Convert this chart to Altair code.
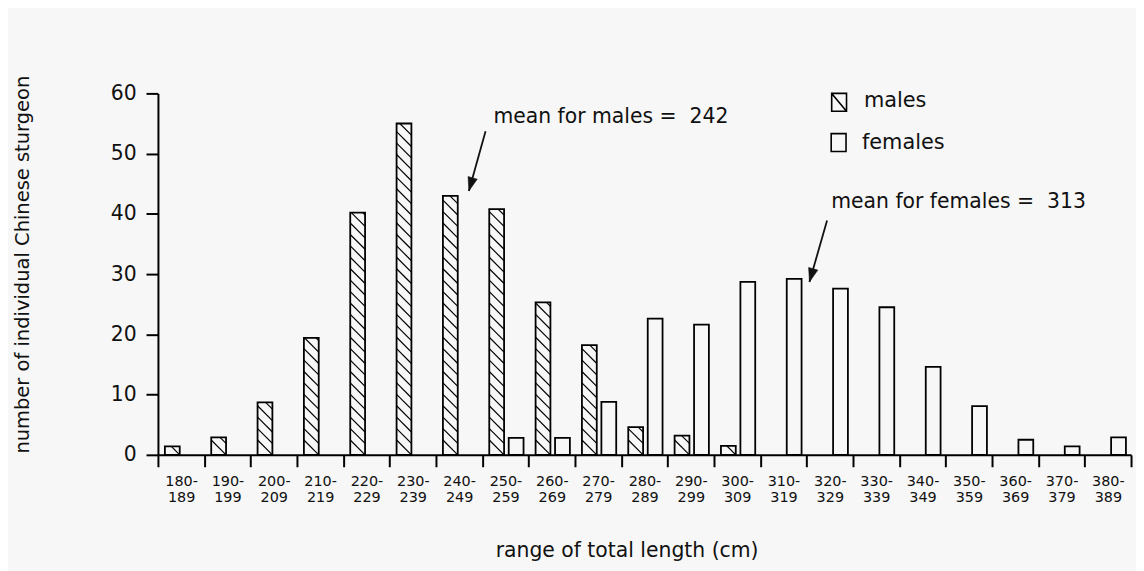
import altair as alt
import pandas as pd

# ---------------- data ----------------
bin_starts = list(range(180, 390, 10))          # 180-189 ... 380-389
male_counts = [1.4, 2.9, 8.7, 19.4, 40.2, 55.0, 43.0, 40.8, 25.3, 18.2, 4.6, 3.2, 1.5,
               None, None, None, None, None, None, None, None]
female_counts = [None, None, None, None, None, None, None,
                 2.8, 2.8, 8.8, 22.6, 21.6, 28.7, 29.2, 27.6, 24.5, 14.6, 8.1, 2.5, 1.4, 2.9]
tick_values = list(range(180, 400, 10))
y_ticks = [0, 10, 20, 30, 40, 50, 60]

sexes = ["males", "females"]
annot_text = ["mean for males = \u00a0242", "mean for females = \u00a0313"]
annot_x = [252.4, 325.3]
annot_y = [55.05, 40.9]
arrow_x = [250.7, 324.4]
arrow_y = [53.7, 38.9]
arrow_tip_x = [247.1, 320.6]
arrow_tip_y = [43.8, 28.7]

# ---------------- layout / style ----------------
W, H = 980, 364
XD = [180, 390]
YD = [0, 60]
BG = "#f7f7f7"
INK = "#111111"
FONT = "DejaVu Sans"
BAR_W = 3.2                     # bar width in cm units
OFFSET = {"males": 1.5, "females": 5.7}
PX_X = W / (XD[1] - XD[0])
PX_Y = H / (YD[1] - YD[0])
HATCH_SPACING = 11.5

rows = []
for s, m, f in zip(bin_starts, male_counts, female_counts):
    if m is not None:
        rows.append({"start": s, "sex": "males", "count": m})
    if f is not None:
        rows.append({"start": s, "sex": "females", "count": f})
bars_df = pd.DataFrame(rows)
bars_df["xl"] = bars_df["start"] + bars_df["sex"].map(OFFSET)
bars_df["xr"] = bars_df["xl"] + BAR_W

# diagonal hatching for male bars, derived from the counts
hatch = []
for s, v in zip(bin_starts, male_counts):
    if v is None:
        continue
    xl = s + OFFSET["males"]
    Wp = BAR_W * PX_X
    Hp = v * PX_Y
    c = Hp - Wp
    while c > -Wp:
        x0 = max(0.0, -c)
        x1 = min(Wp, Hp - c)
        if x1 > x0 + 0.5:
            hatch.append({"hx": xl + x0 / PX_X, "hy": v - (x0 + c) / PX_Y,
                          "hx2": xl + x1 / PX_X, "hy2": v - (x1 + c) / PX_Y})
        c -= HATCH_SPACING
hatch_df = pd.DataFrame(hatch)

annot_df = pd.DataFrame({"x": annot_x, "y": annot_y, "text": annot_text})
arrow_df = pd.DataFrame({"x": arrow_x, "y": arrow_y, "x2": arrow_tip_x, "y2": arrow_tip_y})

xscale = alt.Scale(domain=XD, nice=False, zero=False)
yscale = alt.Scale(domain=YD, nice=False)

x_axis = alt.Axis(
    values=tick_values,
    title="range of total length (cm)",
    labelExpr="datum.value >= 390 ? '' : [format(datum.value, 'd') + '-', format(datum.value + 9, 'd')]",
    labelOffset=W / 21 / 2,
    labelFontSize=14.5,
    labelLineHeight=16,
    labelPadding=8,
    labelOverlap=False,
    labelBound=False,
    labelFlush=False,
    tickSize=12,
    titleX=472,
    titleY=102,
    titleAlign="center",
    titleBaseline="alphabetic",
    titleFontSize=20.5,
)
y_axis = alt.Axis(
    values=y_ticks,
    title="number of individual Chinese sturgeon",
    tickSize=12,
    labelPadding=10,
    labelFontSize=20.5,
    titleAngle=270,
    titleX=-130,
    titleY=172,
    titleAlign="center",
    titleBaseline="alphabetic",
    titleFontSize=19.6,
)

bars = alt.Chart(bars_df).mark_rect(fill=BG, stroke="black", strokeWidth=1.8).encode(
    x=alt.X("xl:Q", scale=xscale, axis=x_axis),
    x2="xr:Q",
    y=alt.Y("count:Q", scale=yscale, axis=y_axis),
    y2=alt.datum(0),
)

hatch_layer = alt.Chart(hatch_df).mark_rule(stroke="black", strokeWidth=1.2).encode(
    x=alt.X("hx:Q", scale=xscale),
    x2="hx2:Q",
    y=alt.Y("hy:Q", scale=yscale),
    y2="hy2:Q",
)

annots = alt.Chart(annot_df).mark_text(
    align="left", baseline="alphabetic", font=FONT, fontSize=20.5, color=INK
).encode(
    x=alt.X("x:Q", scale=xscale),
    y=alt.Y("y:Q", scale=yscale),
    text="text:N",
)

arrow_lines = alt.Chart(arrow_df).mark_rule(stroke=INK, strokeWidth=1.8).encode(
    x=alt.X("x:Q", scale=xscale),
    x2="x2:Q",
    y=alt.Y("y:Q", scale=yscale),
    y2="y2:Q",
)

arrow_heads = alt.Chart(arrow_df).mark_point(
    shape="M0,0L-0.35,-1L0.35,-1Z", filled=True, fill=INK, stroke=INK, strokeWidth=0.5,
    size=760, angle=16, opacity=1
).encode(
    x=alt.X("x2:Q", scale=xscale),
    y=alt.Y("y2:Q", scale=yscale),
)

leg_m_box = alt.Chart(pd.DataFrame({"sex": [sexes[0]]})).mark_point(
    shape="M-0.83,-1H0.83V1H-0.83Z M-0.83,-1L0.83,1", filled=False, stroke="black",
    strokeWidth=1.6, size=324, opacity=1
).encode(x=alt.value(686), y=alt.value(9))
leg_f_box = alt.Chart(pd.DataFrame({"sex": [sexes[1]]})).mark_point(
    shape="M-0.83,-1H0.83V1H-0.83Z", filled=False, stroke="black",
    strokeWidth=1.6, size=324, opacity=1
).encode(x=alt.value(685.5), y=alt.value(49.5))
leg_m_txt = alt.Chart(pd.DataFrame({"sex": [sexes[0]]})).mark_text(
    align="left", baseline="alphabetic", font=FONT, fontSize=21, color=INK
).encode(x=alt.value(711), y=alt.value(13.7), text="sex:N")
leg_f_txt = alt.Chart(pd.DataFrame({"sex": [sexes[1]]})).mark_text(
    align="left", baseline="alphabetic", font=FONT, fontSize=21, color=INK
).encode(x=alt.value(709), y=alt.value(56), text="sex:N")

chart = alt.layer(
    bars, hatch_layer, arrow_lines, arrow_heads, annots,
    leg_m_box, leg_f_box, leg_m_txt, leg_f_txt
).properties(
    width=W,
    height=H,
    padding={"left": 151, "top": 84, "right": 5, "bottom": 115},
    autosize=alt.AutoSizeParams(type="none"),
    background=BG,
).configure_view(stroke=None).configure_axis(
    domainColor="black",
    domainWidth=2,
    tickColor="black",
    tickWidth=2,
    grid=False,
    labelColor=INK,
    titleColor=INK,
    labelFont=FONT,
    titleFont=FONT,
    titleFontWeight="normal",
)

chart.save("out.html", embed_options={"renderer": "svg", "actions": False})
